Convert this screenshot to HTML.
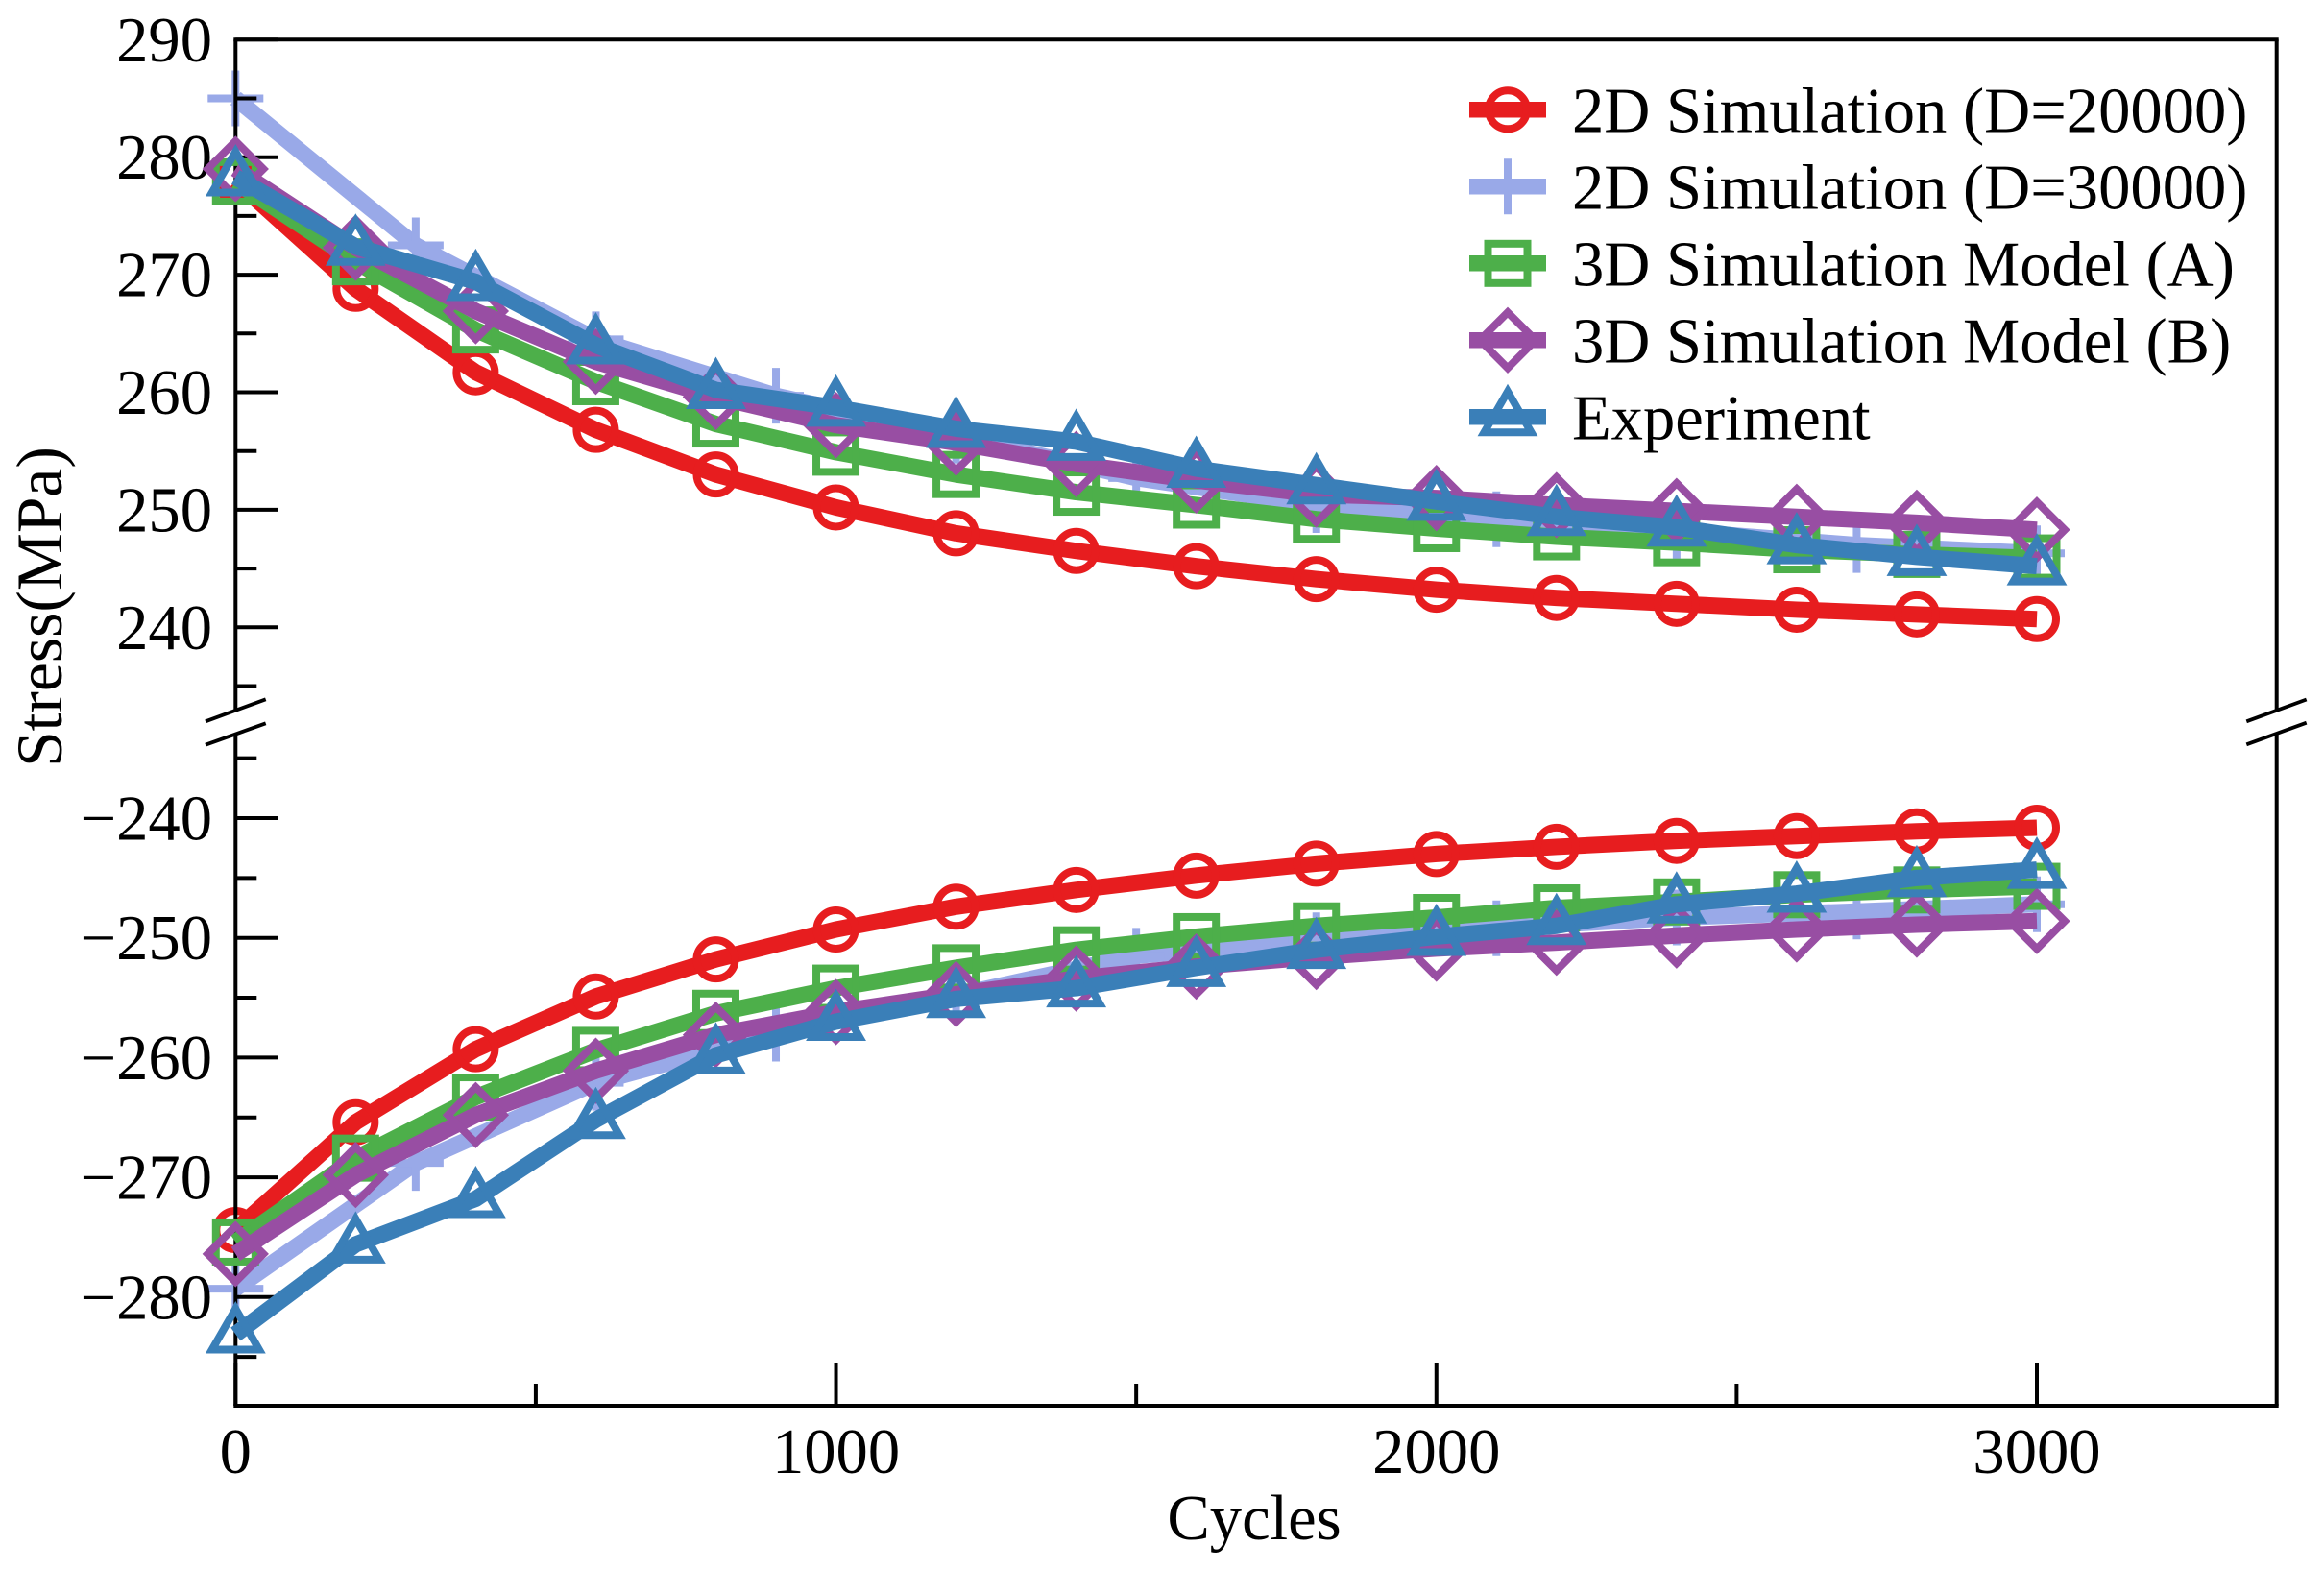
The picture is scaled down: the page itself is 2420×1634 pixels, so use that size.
<!DOCTYPE html>
<html lang="en">
<head>
<meta charset="utf-8">
<title>Stress vs Cycles</title>
<style>
html,body{margin:0;padding:0;background:#fff;}
svg{display:block;}
text{font-family:"Liberation Serif","Times New Roman",serif;fill:#000;}
</style>
</head>
<body>
<svg id="chart" xmlns="http://www.w3.org/2000/svg" width="2420" height="1634" viewBox="0 0 2420 1634">
<rect x="0" y="0" width="2420" height="1634" fill="#ffffff"/>
<g id="under"></g>
<g id="axes"></g>
<g id="over"></g>
<g id="legend"></g>
</svg>
<script>
// ---- data ----
const cycles = [0,200,400,600,800,1000,1200,1400,1600,1800,2000,2200,2400,2600,2800,3000];
const cyclesD30000 = [0,300,600,900,1200,1500,1800,2100,2400,2700,3000];

const d20000Upper = [278,268.8,261.7,256.8,253,250.2,248,246.5,245.2,244.1,243.2,242.5,242,241.5,241.1,240.7];
const d20000Lower = [-274.4,-265.4,-259.3,-254.9,-251.8,-249.3,-247.4,-246,-244.8,-243.8,-243,-242.4,-241.9,-241.5,-241.1,-240.8];

const d30000Upper = [285,272.5,264.5,259.7,256.3,252.7,250.4,249.2,248.2,247,246.3];
const d30000Lower = [-279.3,-268.8,-262.1,-258,-254.8,-251.5,-250.2,-249.2,-248.3,-247.8,-247.2];

const modelAUpper = [277.9,271.1,265.3,260.9,257.3,254.9,253,251.5,250.4,249.2,248.4,247.7,247.2,246.6,246.2,245.9];
const modelALower = [-275.4,-268.4,-263.3,-259.4,-256.3,-254.2,-252.5,-251,-249.9,-249,-248.3,-247.5,-247,-246.4,-246,-245.7];

const modelBUpper = [279,272.3,266.9,262.6,259.6,257.2,255.7,253.9,252.5,251.3,251,250.4,249.9,249.4,248.9,248.3];
const modelBLower = [-276.4,-269.8,-264.8,-261.1,-258.1,-256.2,-254.7,-253.4,-252.4,-251.6,-250.9,-250.4,-249.8,-249.3,-248.9,-248.6];

const experimentUpper = [278.3,272.4,269.4,264,260.2,258.7,256.9,255.8,253.5,252.1,250.7,249.4,248.5,247,246,245.2];
const experimentLower = [-283.1,-275.6,-271.8,-265.2,-259.8,-257,-255.1,-254.2,-252.5,-251,-249.9,-249,-247.2,-246.3,-245,-244.3];

const xMajorTicks = [0,1000,2000,3000];
const xMinorTicks = [500,1500,2500];
const upperMajorTicks = [240,250,260,270,280,290];
const upperMinorTicks = [235,245,255,265,275,285];
const lowerMajorTicks = [-240,-250,-260,-270,-280];
const lowerMinorTicks = [-235,-245,-255,-265,-275,-285];
const legendLabels = ["2D Simulation (D=20000)","2D Simulation (D=30000)","3D Simulation Model (A)","3D Simulation Model (B)","Experiment"];

// ---- axis functions ----
const NS = "http://www.w3.org/2000/svg";
function xScale(v){ return 245.3 + v * (2121 - 245.3) / 3000; }
function yUpper(v){ return 163.7 + (280 - v) * 12.24; }
function yLower(v){ return 852 + (-240 - v) * 12.47; }

function make(parent, tag, attrs){
  const el = document.createElementNS(NS, tag);
  for (const k in attrs) el.setAttribute(k, attrs[k]);
  parent.appendChild(el);
  return el;
}

const MARK_W = 8;
function drawMarker(parent, type, cx, cy, color){
  const common = {fill:"none", stroke:color, "stroke-width":MARK_W};
  let m;
  if (type === "circle") {
    m = make(parent, "circle", Object.assign({cx:cx, cy:cy, r:20}, common));
  } else if (type === "plus") {
    m = make(parent, "path", Object.assign({d:`M${cx-29} ${cy}H${cx+29}M${cx} ${cy-29}V${cy+29}`}, common));
  } else if (type === "square") {
    m = make(parent, "rect", Object.assign({x:cx-20.5, y:cy-20.5, width:41, height:41}, common));
  } else if (type === "diamond") {
    m = make(parent, "path", Object.assign({d:`M${cx} ${cy-29}L${cx+29} ${cy}L${cx} ${cy+29}L${cx-29} ${cy}Z`, "stroke-linejoin":"miter"}, common));
  } else {
    m = make(parent, "path", Object.assign({d:`M${cx} ${cy-26.5}L${cx+24.5} ${cy+16}L${cx-24.5} ${cy+16}Z`, "stroke-linejoin":"miter", "stroke-miterlimit":6}, common));
  }
  
  
  return m;
}

function drawSeries(parent, name, xs, ys, yFn, color, type){
  const g = make(parent, "g", {});
  
  
  const pts = xs.map((c, i) => xScale(c).toFixed(2) + "," + yFn(ys[i]).toFixed(2)).join(" ");
  const line = make(g, "polyline", {points:pts, fill:"none", stroke:color, "stroke-width":17, "stroke-linejoin":"round", "stroke-linecap":"butt"});
  
  
  xs.forEach((c, i) => { drawMarker(g, type, xScale(c), yFn(ys[i]), color); });
}

const under = document.getElementById("under");
const over = document.getElementById("over");
const axes = document.getElementById("axes");
const legend = document.getElementById("legend");

const RED = "#e71d1f", PERI = "#99a9e8", GREEN = "#4daf4a", PURPLE = "#984ea3", BLUE = "#3a7fb8";

drawSeries(under, "d20000-upper-series", cycles, d20000Upper, yUpper, RED, "circle");
drawSeries(under, "d20000-lower-series", cycles, d20000Lower, yLower, RED, "circle");
drawSeries(under, "d30000-upper-series", cyclesD30000, d30000Upper, yUpper, PERI, "plus");
drawSeries(under, "d30000-lower-series", cyclesD30000, d30000Lower, yLower, PERI, "plus");
drawSeries(over, "model-a-upper-series", cycles, modelAUpper, yUpper, GREEN, "square");
drawSeries(over, "model-a-lower-series", cycles, modelALower, yLower, GREEN, "square");
drawSeries(over, "model-b-upper-series", cycles, modelBUpper, yUpper, PURPLE, "diamond");
drawSeries(over, "model-b-lower-series", cycles, modelBLower, yLower, PURPLE, "diamond");
drawSeries(over, "experiment-upper-series", cycles, experimentUpper, yUpper, BLUE, "triangle");
drawSeries(over, "experiment-lower-series", cycles, experimentLower, yLower, BLUE, "triangle");

// ---- axes ----
const L = 245.3, R = 2370.7, T = 41.3, B = 1464;
function seg(x1, y1, x2, y2, w, name){
  const s = make(axes, "line", {x1:x1, y1:y1, x2:x2, y2:y2, stroke:"#000", "stroke-width":w, "stroke-linecap":"square"});
  
  
  return s;
}
function butt(el){ el.setAttribute("stroke-linecap", "butt"); return el; }

seg(L, T, R, T, 4, "top-spine");
seg(L, B, R, B, 4, "bottom-spine");
butt(seg(L, T, L, 739, 4, "left-spine-upper"));
butt(seg(L, 764, L, B, 4, "left-spine-lower"));
butt(seg(R, T, R, 740, 4, "right-spine-upper"));
butt(seg(R, 763, R, B, 4, "right-spine-lower"));

butt(seg(214, 751.3, 276.7, 728.3, 3.8, "left-axis-break-upper"));
butt(seg(214, 775.7, 276.7, 753.3, 3.8, "left-axis-break-lower"));
butt(seg(2339.3, 751.3, 2401.7, 728.5, 3.8, "right-axis-break-upper"));
butt(seg(2339.3, 775.3, 2401.7, 752.7, 3.8, "right-axis-break-lower"));

function label(txt, x, y, anchor, name){
  const t = make(axes, "text", {x:x, y:y, "text-anchor":anchor, "font-size":66.6});
  t.textContent = txt;
  
  
  return t;
}

xMajorTicks.forEach(v => {
  butt(seg(xScale(v), B, xScale(v), B - 45, 4, "x-major-tick"));
  label(String(v), xScale(v), 1534, "middle", "x-tick-label");
});
xMinorTicks.forEach(v => {
  butt(seg(xScale(v), B, xScale(v), B - 23, 4, "x-minor-tick"));
});
upperMajorTicks.forEach(v => {
  butt(seg(L, yUpper(v), L + 44, yUpper(v), 4, "y-major-tick-upper"));
  label(String(v), 221, yUpper(v) + 22.5, "end", "y-tick-label-upper");
});
upperMinorTicks.forEach(v => {
  butt(seg(L, yUpper(v), L + 22, yUpper(v), 4, "y-minor-tick-upper"));
});
lowerMajorTicks.forEach(v => {
  butt(seg(L, yLower(v), L + 44, yLower(v), 4, "y-major-tick-lower"));
  label("\u2212" + Math.abs(v), 221, yLower(v) + 22.5, "end", "y-tick-label-lower");
});
lowerMinorTicks.forEach(v => {
  butt(seg(L, yLower(v), L + 22, yLower(v), 4, "y-minor-tick-lower"));
});

label("Cycles", 1306, 1603, "middle", "x-axis-title");
const yTitle = label("Stress(MPa)", 0, 0, "middle", "y-axis-title");
yTitle.setAttribute("font-size", "67.5");
yTitle.setAttribute("transform", "translate(64 632) rotate(-90)");

// ---- legend ----
const legendColors = [RED, PERI, GREEN, PURPLE, BLUE];
const legendMarkers = ["circle","plus","square","diamond","triangle"];
legendLabels.forEach((txt, i) => {
  const cy = 114.3 + i * 80;
  const g = make(legend, "g", {});
  
  
  const hl = make(g, "line", {x1:1530, y1:cy, x2:1610, y2:cy, stroke:legendColors[i], "stroke-width":16.5});
  
  
  drawMarker(g, legendMarkers[i], 1570, cy, legendColors[i]);
  const t = make(g, "text", {x:1637, y:cy + 23.2, "font-size":66.6});
  t.textContent = txt;
  
  
});
</script>
</body>
</html>
